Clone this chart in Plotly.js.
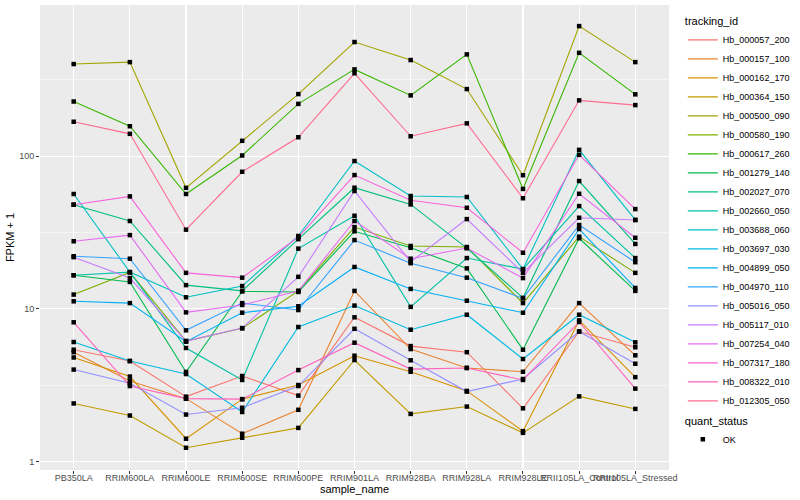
<!DOCTYPE html>
<html>
<head>
<meta charset="utf-8">
<script src="https://cdn.plot.ly/plotly-3.0.1.min.js"></script>
<style>html,body{margin:0;padding:0;background:#fff;}#chart{width:800px;height:500px;}</style>
</head>
<body>
<div id="chart"></div>
<script>
// ---- data (FPKM + 1) ----
var samples = ['PB350LA','RRIM600LA','RRIM600LE','RRIM600SE','RRIM600PE','RRIM901LA','RRIM928BA','RRIM928LA','RRIM928LE','RRII105LA_Control','RRII105LA_Stressed'];
var trackingIds = ['Hb_000057_200','Hb_000157_100','Hb_000162_170','Hb_000364_150','Hb_000500_090','Hb_000580_190','Hb_000617_260','Hb_001279_140','Hb_002027_070','Hb_002660_050','Hb_003688_060','Hb_003697_030','Hb_004899_050','Hb_004970_110','Hb_005016_050','Hb_005117_010','Hb_007254_040','Hb_007317_180','Hb_008322_010','Hb_012305_050'];

var Hb_000057_200 = [5.4, 4.55, 2.66, 3.63, 2.70, 8.8, 5.7, 5.2, 2.23, 7.1, 5.6];
var Hb_000157_100 = [5.2, 3.37, 2.58, 1.52, 2.18, 13.1, 5.45, 4.1, 3.87, 10.9, 4.96];
var Hb_000162_170 = [4.8, 3.6, 1.41, 2.56, 3.17, 4.93, 3.87, 2.9, 1.58, 8.4, 3.57];
var Hb_000364_150 = [2.4, 2.0, 1.23, 1.43, 1.66, 4.62, 2.05, 2.29, 1.54, 2.67, 2.21];
var Hb_000500_090 = [401, 413, 62, 126, 255, 559, 426, 275, 75, 711, 413];
var Hb_000580_190 = [12.4, 17.3, 6.15, 7.45, 13.1, 34.3, 25.8, 25.4, 10.9, 29.7, 17.2];
var Hb_000617_260 = [228, 157, 56.5, 101, 220, 370, 250, 464, 61, 475, 254];
var Hb_001279_140 = [16.6, 15.0, 3.86, 13.0, 12.9, 32.2, 25.1, 18.4, 5.4, 29, 13.1];
var Hb_002027_070 = [48.1, 37.6, 14.3, 13.1, 28.6, 62.1, 48.3, 25.0, 11.8, 68.7, 26.6];
var Hb_002660_050 = [16.6, 17.4, 5.54, 3.42, 24.8, 40.7, 10.3, 21.5, 18.2, 47.1, 21.5];
var Hb_003688_060 = [56.5, 17.4, 11.9, 14.1, 30.0, 92.9, 54.8, 54.0, 18.2, 110, 38.2];
var Hb_003697_030 = [6.06, 4.55, 3.74, 2.11, 7.6, 10.5, 7.3, 9.15, 4.69, 9.15, 6.03];
var Hb_004899_050 = [11.2, 10.9, 6.09, 9.43, 10.4, 18.8, 13.5, 11.3, 9.43, 33.3, 13.7];
var Hb_004970_110 = [22.1, 21.3, 7.23, 10.9, 9.82, 28.2, 19.9, 16.0, 11.7, 35.4, 20.2];
var Hb_005016_050 = [4.0, 3.25, 2.03, 2.25, 3.12, 7.4, 4.6, 2.87, 3.47, 7.1, 4.37];
var Hb_005117_010 = [21.8, 15.9, 6.15, 7.48, 16.2, 59.1, 20.3, 38.7, 17.2, 39.5, 38.2];
var Hb_007254_040 = [27.7, 30.4, 9.48, 10.6, 13.1, 37.6, 21.3, 25.0, 15.9, 56.7, 29.2];
var Hb_007317_180 = [48.1, 54.5, 17.2, 16.0, 29.5, 75.2, 51.4, 45.9, 23.3, 102, 45.0];
var Hb_008322_010 = [8.16, 3.12, 2.58, 2.56, 3.97, 6.0, 4.03, 4.1, 3.42, 8.2, 3.0];
var Hb_012305_050 = [168, 140, 33, 79, 133, 349, 135, 164, 53, 232, 216];

var seriesValues = [Hb_000057_200, Hb_000157_100, Hb_000162_170, Hb_000364_150, Hb_000500_090, Hb_000580_190, Hb_000617_260, Hb_001279_140, Hb_002027_070, Hb_002660_050, Hb_003688_060, Hb_003697_030, Hb_004899_050, Hb_004970_110, Hb_005016_050, Hb_005117_010, Hb_007254_040, Hb_007317_180, Hb_008322_010, Hb_012305_050];

var colors = ['#F8766D','#EA8331','#D89000','#C09B00','#A3A500','#7CAE00','#39B600','#00BB4E','#00BF7D','#00C1A3','#00BFC4','#00BAE0','#00B0F6','#35A2FF','#9590FF','#C77CFF','#E76BF3','#FA62DB','#FF62BC','#FF6C91'];

var yTickVals = [1, 10, 100];
var yTickText = ['1', '10', '100'];
var yMinorVals = [3.1623, 31.623, 316.23];

var traces = [];
trackingIds.forEach(function (id, i) {
  traces.push({
    type: 'scatter', mode: 'lines', name: id,
    x: samples, y: seriesValues[i],
    line: {color: colors[i], width: 1.1},
    legend: 'legend', hoverinfo: 'x+y+name'
  });
});
var allX = [], allY = [];
seriesValues.forEach(function (vals) {
  vals.forEach(function (v, j) { allX.push(samples[j]); allY.push(v); });
});
traces.push({
  type: 'scatter', mode: 'markers', name: 'OK',
  x: allX, y: allY,
  marker: {symbol: 'square', size: 4.5, color: '#000000'},
  legend: 'legend2'
});

var font = 'Liberation Sans, Arial, sans-serif';
var layout = {
  width: 800, height: 500,
  margin: {l: 40, r: 116, t: 5, b: 30},
  paper_bgcolor: '#FFFFFF', plot_bgcolor: '#EBEBEB',
  font: {family: font, size: 9, color: '#000000'},
  xaxis: {
    type: 'category', range: [-0.6, 10.6],
    showgrid: true, gridcolor: '#FFFFFF', gridwidth: 1.1,
    zeroline: false, showline: false,
    ticks: 'outside', ticklen: 3, tickcolor: '#333333', tickwidth: 1,
    ticklabelstandoff: -4,
    tickfont: {family: font, size: 9, color: '#4D4D4D'}, tickangle: 0,
    title: {text: 'sample_name', font: {family: font, size: 11, color: '#000000'}, standoff: 0},
    automargin: false
  },
  yaxis: {
    type: 'log', range: [-0.0557, 2.990],
    tickmode: 'array', tickvals: yTickVals, ticktext: yTickText,
    showgrid: true, gridcolor: '#FFFFFF', gridwidth: 1.1,
    minor: {tickmode: 'array', tickvals: yMinorVals, showgrid: true, gridcolor: '#FFFFFF', gridwidth: 0.5, ticks: ''},
    zeroline: false, showline: false,
    ticks: 'outside', ticklen: 3, tickcolor: '#333333', tickwidth: 1,
    tickfont: {family: font, size: 9, color: '#4D4D4D'},
    title: {text: 'FPKM + 1', font: {family: font, size: 11, color: '#000000'}, standoff: 2},
    automargin: false
  },
  showlegend: true,
  legend: {
    title: {text: 'tracking_id', font: {family: font, size: 11}},
    x: 1.022, xanchor: 'left', y: 0.987, yanchor: 'top',
    font: {family: font, size: 9, color: '#000000'},
    bgcolor: 'rgba(0,0,0,0)', itemwidth: 30
  },
  legend2: {
    title: {text: 'quant_status', font: {family: font, size: 11}},
    x: 1.022, xanchor: 'left', y: 0.128, yanchor: 'top',
    font: {family: font, size: 9, color: '#000000'},
    bgcolor: 'rgba(0,0,0,0)', itemwidth: 30
  }
};

Plotly.newPlot('chart', traces, layout, {displayModeBar: false, staticPlot: true});
</script>
</body>
</html>
